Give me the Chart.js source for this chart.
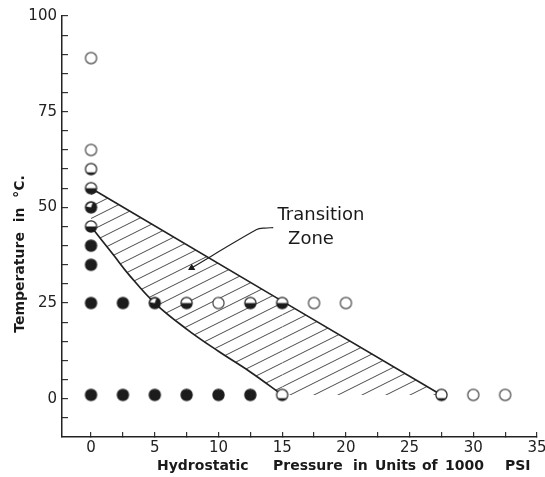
<!DOCTYPE html>
<html><head><meta charset="utf-8">
<script src="https://cdn.jsdelivr.net/npm/chart.js@4"></script>
<style>html,body{margin:0;padding:0;background:#fff;} canvas{display:block;}</style>
</head><body>
<canvas id="c" width="545" height="477"></canvas>
<script>
// ---- data ----
const openPoints = [[0,89],[0,65],[10,25],[17.5,25],[20,25],[30,1],[32.5,1]];
const filledPoints = [[0,40],[0,35],[0,25],[2.5,25],[0,1],[2.5,1],[5,1],[7.5,1],[10,1],[12.5,1]];
const halfPoints = [[0,55],[0,45],[7.5,25],[12.5,25],[15,25]];
const mostlyFilledPoints = [[0,50],[5,25]];
const lightPoints = [[0,60],[15,1],[27.5,1]];
const upperBoundary = [[0,55],[15,25.5],[27.5,1]];
const lowerBoundary = [[0,45],[1.75,37.6],[3,32.3],[5,25],[7.5,18.2],[10,12.4],[12.5,7.0],[15,1]];
const zoneBaseLevel = 1;
const leaderLine = [[7.9,34.2],[13.0,44.2],[13.6,44.6],[14.3,44.7]];
const xTickValues = [0,2.5,5,7.5,10,12.5,15,17.5,20,22.5,25,27.5,30,32.5,35];
const yTickValues = [-5,0,5,10,15,20,25,30,35,40,45,50,55,60,65,70,75,80,85,90,95,100];
const xLabelValues = [0,5,10,15,20,25,30,35];
const yLabelValues = [0,25,50,75,100];

const toXY = arr => arr.map(p => ({x: p[0], y: p[1]}));

// ---- marker images ----
function makeMarker(kind) {
  const s = 15, c = s / 2, r = 5.6;
  const cv = document.createElement('canvas');
  cv.width = s; cv.height = s;
  const g = cv.getContext('2d');
  const ink = '#1c1c1c';
  g.beginPath(); g.arc(c, c, r, 0, Math.PI * 2);
  g.fillStyle = kind === 'filled' || kind === 'mostly' ? ink : '#fff';
  g.fill();
  g.fillStyle = ink;
  if (kind === 'half') {
    g.beginPath(); g.arc(c, c, r, 0, Math.PI); g.closePath(); g.fill();
  } else if (kind === 'light') {
    g.beginPath(); g.arc(c, c, r, Math.PI * 0.2, Math.PI * 0.8); g.closePath(); g.fill();
  } else if (kind === 'mostly') {
    g.fillStyle = '#fff';
    g.beginPath(); g.moveTo(c, c); g.arc(c, c, r - 1, Math.PI * 1.05, Math.PI * 1.6); g.closePath(); g.fill();
  }
  g.beginPath(); g.arc(c, c, r, 0, Math.PI * 2);
  g.lineWidth = 1.2; g.strokeStyle = kind === 'open' ? '#444' : ink; g.stroke();
  return cv;
}

// ---- hatch pattern ----
function makeHatch() {
  const w = 24, h = 12;
  const cv = document.createElement('canvas');
  cv.width = w; cv.height = h;
  const g = cv.getContext('2d');
  g.strokeStyle = '#4a4a4a'; g.lineWidth = 1;
  [[0, 0], [0, h], [0, -h], [w, 0], [-w, 0]].forEach(([dx, dy]) => {
    g.beginPath(); g.moveTo(dx, h + dy); g.lineTo(w + dx, dy); g.stroke();
  });
  return g.createPattern(cv, 'repeat');
}

const ctx = document.getElementById('c').getContext('2d');
const tickFont = {family: 'DejaVu Sans', size: 15};
const hatch = makeHatch();

const pointSet = (label, arr, kind) => ({
  label, data: toXY(arr), showLine: false, pointStyle: makeMarker(kind),
  pointRadius: 6, order: 0
});

const textPlugin = {
  id: 'texts',
  afterDraw(chart) {
    const c = chart.ctx;
    c.save();
    c.fillStyle = '#1a1a1a';
    c.textBaseline = 'middle';
    c.textAlign = 'center';
    c.font = '18px "DejaVu Sans"';
    c.fillText('Transition', 321, 215);
    c.fillText('Zone', 311, 239);
    c.font = 'bold 14px "DejaVu Sans"';
    c.textAlign = 'left';
    [['Hydrostatic',157],['Pressure',273],['in',353],['Units',375],['of',422],['1000',445],['PSI',505]]
      .forEach(([t, x]) => c.fillText(t, x, 466));
    c.translate(20, 254); c.rotate(-Math.PI / 2);
    c.textAlign = 'center';
    c.fillText('Temperature  in  \u00B0C.', 0, 0);
    c.restore();
  }
};

const lastLowerX = lowerBoundary[lowerBoundary.length - 1][0];

new Chart(ctx, {
  type: 'line',
  data: {
    datasets: [
      pointSet('open', openPoints, 'open'),
      pointSet('filled', filledPoints, 'filled'),
      pointSet('half', halfPoints, 'half'),
      pointSet('mostly', mostlyFilledPoints, 'mostly'),
      pointSet('light', lightPoints, 'light'),
      // 5: upper boundary, hatched down to the lower boundary
      {label: 'upper', data: toXY(upperBoundary), borderColor: '#222', borderWidth: 1.7, pointRadius: 0,
        fill: {target: 6}, backgroundColor: hatch, tension: 0, order: 2},
      // 6: lower boundary
      {label: 'lower', data: toXY(lowerBoundary), borderColor: '#222', borderWidth: 1.7, pointRadius: 0,
        fill: false, tension: 0.4, order: 1},
      // 7: remaining part of the zone, from the upper boundary down to the base row
      {label: 'zoneTail', data: toXY(upperBoundary.filter(p => p[0] >= lastLowerX)), borderWidth: 0,
        borderColor: 'rgba(0,0,0,0)', pointRadius: 0, tension: 0,
        fill: {value: zoneBaseLevel}, backgroundColor: hatch, order: 3},
      {label: 'leader', data: toXY(leaderLine), borderColor: '#222', borderWidth: 1.2, tension: 0.3,
        pointRadius: [3, 0, 0, 0], pointStyle: 'triangle', pointRotation: 240,
        pointBackgroundColor: '#1c1c1c', pointBorderColor: '#1c1c1c', fill: false, order: 1}
    ]
  },
  options: {
    responsive: false, animation: false, events: [],
    layout: {padding: {top: 16, right: 8, left: 0, bottom: 0}},
    plugins: {legend: {display: false}, tooltip: {enabled: false}},
    scales: {
      x: {
        type: 'linear', min: -2.28, max: 35,
        afterBuildTicks: s => { s.ticks = xTickValues.map(v => ({value: v})); },
        afterFit: s => { s.height = 40; s.paddingLeft = 0; s.paddingRight = 0; },
        grid: {drawOnChartArea: false, tickLength: -5, color: '#333', lineWidth: 1.2},
        border: {color: '#222', width: 1.5},
        ticks: {padding: 7, font: tickFont, color: '#222', maxRotation: 0, autoSkip: false,
          callback: v => xLabelValues.includes(v) ? String(v) : ''}
      },
      y: {
        type: 'linear', min: -10, max: 100,
        afterBuildTicks: s => { s.ticks = yTickValues.map(v => ({value: v})); },
        afterFit: s => { s.width = 62; s.paddingTop = 0; s.paddingBottom = 0; },
        grid: {drawOnChartArea: false, tickLength: -6, color: '#333', lineWidth: 1.2},
        border: {color: '#222', width: 1.5},
        ticks: {padding: 11, font: tickFont, color: '#222', autoSkip: false,
          callback: v => yLabelValues.includes(v) ? String(v) : ''}
      }
    }
  },
  plugins: [textPlugin]
});
</script>
</body></html>
